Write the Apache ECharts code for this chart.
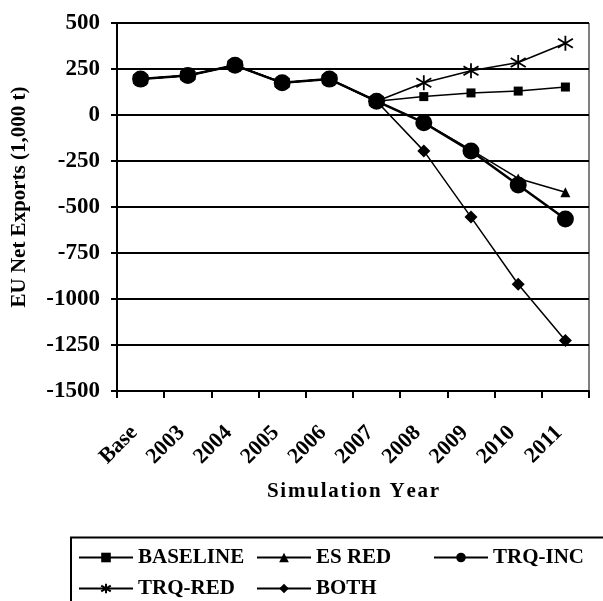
<!DOCTYPE html>
<html>
<head>
<meta charset="utf-8">
<script src="https://cdn.jsdelivr.net/npm/echarts@6/dist/echarts.min.js"></script>
<style>html,body{margin:0;padding:0;background:#fff}#c{width:603px;height:601px}</style>
</head>
<body>
<div id="c"></div>
<script>
var categories = ['Base','2003','2004','2005','2006','2007','2008','2009','2010','2011'];
var baseline = [195, 215, 270, 175, 195, 75, 100, 120, 130, 152];
var esRed    = [195, 215, 270, 175, 195, 75, -40, -190, -345, -420];
var trqInc   = [195, 215, 270, 175, 195, 75, -42, -196, -380, -565];
var trqRed   = [195, 215, 270, 175, 195, 75, 175, 240, 285, 390];
var both     = [195, 215, 270, 175, 195, 75, -195, -555, -920, -1225];
var yTicks = {min: -1500, max: 500, interval: 250};

var FONT = 'Liberation Serif';
var chart = echarts.init(document.getElementById('c'));
var star = 'path://M0,-10L0,10M-9,-6L9,6M-9,6L9,-6';
function ser(name, data, symbol, size, width, z, extra) {
  var s = {
    name: name, type: 'line', data: data, symbol: symbol, symbolSize: size,
    showAllSymbol: true, z: z,
    lineStyle: {color: '#000', width: width},
    itemStyle: {color: '#000'},
    emphasis: {disabled: true}, animation: false
  };
  if (extra) Object.assign(s, extra);
  return s;
}
function spaced(t) { return t.split('').join('\u200A'); }
var legendText = {fontFamily: FONT, fontWeight: 'bold', fontSize: 21, color: '#000'};
var legBase = {orient: 'vertical', top: 547, itemWidth: 54, itemHeight: 12, itemGap: 10, textStyle: legendText, padding: 0};
chart.setOption({
  animation: false,
  grid: {left: 117, right: 14, top: 23, bottom: 210, containLabel: false, outerBoundsMode: 'none', show: true, borderColor: '#000', borderWidth: 1},
  legend: [
    Object.assign({data: ['BASELINE', 'TRQ-RED'], left: 78}, legBase),
    Object.assign({data: ['ES RED', 'BOTH'], left: 256}, legBase),
    Object.assign({data: ['TRQ-INC'], left: 433}, legBase)
  ],
  graphic: [
    {type: 'polyline', shape: {points: [[71, 601], [71, 537.5], [603, 537.5]]}, style: {stroke: '#000', lineWidth: 2, fill: null}}
  ],
  xAxis: {
    type: 'category', data: categories, boundaryGap: true,
    name: spaced('Simulation Year'), nameLocation: 'middle', nameGap: 90,
    nameTextStyle: {fontFamily: FONT, fontWeight: 'bold', fontSize: 21, color: '#000'},
    axisLine: {onZero: false, lineStyle: {color: '#000', width: 2}},
    axisTick: {show: true, length: 7, lineStyle: {color: '#000', width: 2}},
    axisLabel: {rotate: 45, margin: 32, padding: [0, 9, 0, 0], fontFamily: FONT, fontWeight: 'bold', fontSize: 22, color: '#000'},
    splitLine: {show: false}
  },
  yAxis: {
    type: 'value', min: yTicks.min, max: yTicks.max, interval: yTicks.interval,
    name: 'EU Net Exports (1,000 t)', nameLocation: 'middle', nameGap: 87,
    nameTextStyle: {fontFamily: FONT, fontWeight: 'bold', fontSize: 21, color: '#000', padding: [0, 0, 0, 20]},
    axisLine: {show: true, lineStyle: {color: '#000', width: 2}},
    axisTick: {show: true, length: 6, lineStyle: {color: '#000', width: 2}},
    axisLabel: {margin: 17, formatter: function (v) { return String(v); }, fontFamily: FONT, fontWeight: 'bold', fontSize: 23, color: '#000'},
    splitLine: {show: true, lineStyle: {color: '#000', width: 2}}
  },
  series: [
    ser('BASELINE', baseline, 'rect', 9, 1.5, 2),
    ser('ES RED', esRed, 'triangle', 10, 1.5, 3),
    ser('TRQ-RED', trqRed, star, 15, 1.5, 4, {itemStyle: {color: 'none', borderColor: '#000', borderWidth: 1.8}}),
    ser('BOTH', both, 'diamond', 13, 1.5, 5),
    ser('TRQ-INC', trqInc, 'circle', 17, 2.5, 6)
  ]
});
</script>
</body>
</html>
